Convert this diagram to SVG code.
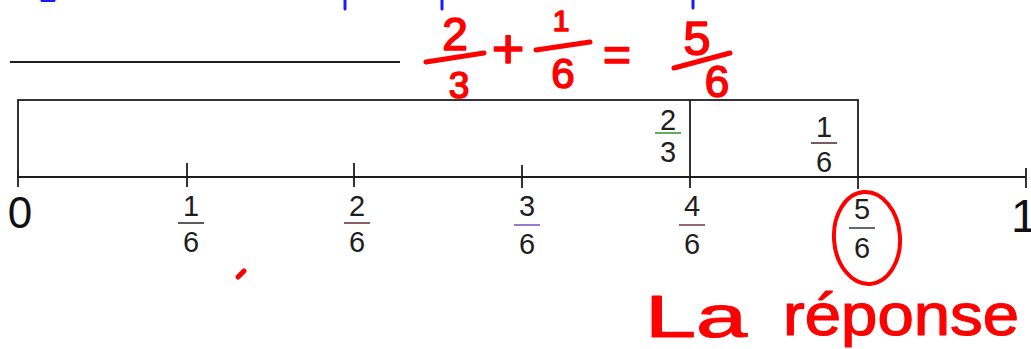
<svg xmlns="http://www.w3.org/2000/svg" width="1031" height="349" viewBox="0 0 1031 349">
<style>
.ln{stroke:#1e1e1e;stroke-width:1.8;fill:none;stroke-linecap:butt}
.num{font-family:"Liberation Sans",Arial,sans-serif;font-size:29px;fill:#1e1e1e;text-anchor:middle}
.big{font-family:"Liberation Sans",Arial,sans-serif;fill:#111}
.bar{stroke-width:1.6}
.red{fill:#ff0000;stroke:#ff0000;stroke-width:1.6;stroke-linejoin:round;font-family:"Liberation Sans",Arial,sans-serif;text-anchor:middle}
.hand{fill:#ff0000;stroke:#ff0000;stroke-width:1.2;stroke-linejoin:round;font-family:"Liberation Sans",Arial,sans-serif;text-anchor:start;font-size:60px}
.rl{stroke:#ff0000;stroke-width:5;stroke-linecap:round;fill:none}
.bl{stroke:#1a1aff;stroke-width:3;stroke-linecap:round}
</style>
<rect width="1031" height="349" fill="#ffffff"/>
<g id="blue-marks">
<line class="bl" x1="42" y1="0.5" x2="54" y2="0.5"/>
<line class="bl" x1="345" y1="0" x2="345" y2="9"/>
<line class="bl" x1="442" y1="0" x2="442" y2="9"/>
<line class="bl" x1="693" y1="0" x2="693" y2="8"/>
</g>
<g id="blank-line"><line class="ln" x1="10" y1="62" x2="400" y2="62" stroke-width="1.5"/></g>
<g id="equation">
<text class="red" x="455" y="50" font-size="46">2</text>
<line class="rl" x1="426" y1="62" x2="484" y2="53"/>
<text class="red" x="459" y="98" font-size="37">3</text>
<text class="red" x="508" y="68" font-size="56">+</text>
<text class="red" x="561" y="31" font-size="30">1</text>
<line class="rl" x1="536" y1="50" x2="590" y2="42"/>
<text class="red" x="563" y="88" font-size="42">6</text>
<text class="red" x="617" y="71" font-size="48">=</text>
<text class="red" x="697" y="55" font-size="49">5</text>
<line class="rl" x1="674" y1="68" x2="730" y2="53"/>
<text class="red" x="717" y="97" font-size="44">6</text>
</g>
<g id="bar-model">
<rect class="ln" x="18" y="100" width="840" height="77" stroke-width="1.5"/>
<line class="ln" x1="690" y1="100" x2="690" y2="188"/>
<line class="ln" x1="858" y1="177" x2="858" y2="189"/>
<g id="part-2-3">
<text class="num" x="668" y="130">2</text>
<line class="bar" x1="655" y1="133" x2="681" y2="133" stroke="#3a9a3a"/>
<text class="num" x="668" y="162">3</text>
</g>
<g id="part-1-6">
<text class="num" x="824" y="137">1</text>
<line class="bar" x1="811" y1="143" x2="837" y2="143" stroke="#5a3040"/>
<text class="num" x="824" y="172">6</text>
</g>
</g>
<g id="number-line">
<line class="ln" x1="18" y1="177" x2="1026" y2="177"/>
<line class="ln" x1="18" y1="170" x2="18" y2="187"/>
<line class="ln" x1="187" y1="163" x2="187" y2="187"/>
<line class="ln" x1="354" y1="163" x2="354" y2="187"/>
<line class="ln" x1="522" y1="165" x2="522" y2="188"/>
<line class="ln" x1="1026" y1="168" x2="1026" y2="188"/>
<text class="big" x="20" y="228" font-size="44" text-anchor="middle">0</text>
<text class="big" x="1011" y="232" font-size="47">1</text>
<g id="l1"><text class="num" x="191" y="216">1</text><line class="bar" x1="178" y1="223" x2="204" y2="223" stroke="#333"/><text class="num" x="191" y="252">6</text></g>
<g id="l2"><text class="num" x="357" y="216">2</text><line class="bar" x1="344" y1="223" x2="370" y2="223" stroke="#6b3a3a"/><text class="num" x="357" y="252">6</text></g>
<g id="l3"><text class="num" x="527" y="216">3</text><line class="bar" x1="514" y1="225" x2="540" y2="225" stroke="#7a5cc8"/><text class="num" x="527" y="254">6</text></g>
<g id="l4"><text class="num" x="692" y="216">4</text><line class="bar" x1="679" y1="225" x2="705" y2="225" stroke="#7a4050"/><text class="num" x="692" y="254">6</text></g>
<g id="l5"><text class="num" x="862" y="219">5</text><line class="bar" x1="849" y1="228" x2="875" y2="228" stroke="#444"/><text class="num" x="862" y="258">6</text></g>
</g>
<g id="answer">
<ellipse cx="867" cy="238" rx="33" ry="46" fill="none" stroke="#ff0000" stroke-width="4" transform="rotate(-4 867 238)"/>
<text class="hand" x="645" y="337" textLength="102" lengthAdjust="spacingAndGlyphs">La</text>
<text class="hand" x="783" y="335" textLength="236" lengthAdjust="spacingAndGlyphs">réponse</text>
<line class="rl" x1="238" y1="277" x2="244" y2="271"/>
</g>
</svg>
